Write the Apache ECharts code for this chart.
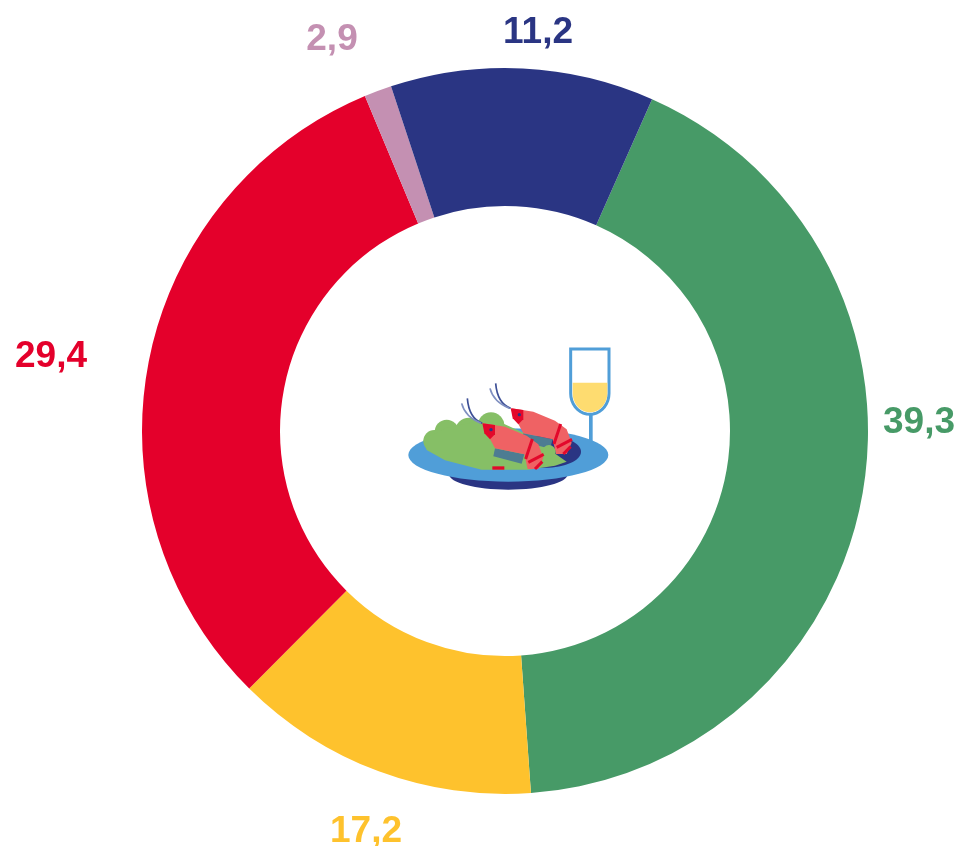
<!DOCTYPE html>
<html>
<head>
<meta charset="utf-8">
<style>
  html, body { margin: 0; padding: 0; background: #fff; }
  #chart { width: 960px; height: 846px; }
</style>
<script src="https://cdn.jsdelivr.net/npm/echarts@6/dist/echarts.min.js"></script>
</head>
<body>
<div id="chart"></div>
<script>
// printed labels, clockwise from the green slice
const printedLabels = ['39,3', '17,2', '29,4', '2,9', '11,2']
// the arcs in the picture do not follow the printed numbers, so these are the drawn shares (degrees)
const drawnShares = [152, 48.9, 112.5, 4.4, 42.2]
const sliceColors = ['#479a67', '#fec22d', '#e4002b', '#c490b2', '#2a3583']
const labelCenters = [[919, 423], [366, 832], [51, 357], [332, 40], [538, 33]]

const chart = echarts.init(document.getElementById('chart'), null, { renderer: 'canvas' })

const blue = '#509ed8'
const navy = '#2a3583'
const salmon = '#ef6264'
const red = '#e3082b'
const mesh = '#4d7c92'
const leaf = '#86bf66'

// glass bowl outline: straight sides, round bottom
function bowl(left, right, top, shoulder, bottom) {
  const cx = (left + right) / 2
  const rx = (right - left) / 2
  const ry = bottom - shoulder
  const pts = [[left, top], [right, top]]
  for (let a = 0; a <= 180; a += 10) {
    const t = a * Math.PI / 180
    pts.push([cx + rx * Math.cos(t), shoulder + ry * Math.sin(t)])
  }
  return pts
}

// one shrimp, drawn in the zoomed icon coordinates
function shrimp(dx, dy) {
  const stripe = (x1, y1, x2, y2) => ({
    type: 'line', shape: { x1, y1, x2, y2 }, style: { stroke: red, lineWidth: 9 }
  })
  return {
    type: 'group', x: dx, y: dy,
    children: [
      { type: 'bezierCurve', shape: { x1: 262, y1: 265, cpx1: 222, cpy1: 250, x2: 217, y2: 190 }, style: { stroke: '#3d4f96', lineWidth: 5, fill: null } },
      { type: 'bezierCurve', shape: { x1: 258, y1: 265, cpx1: 210, cpy1: 245, x2: 200, y2: 205 }, style: { stroke: '#7f8fc0', lineWidth: 5, fill: null } },
      { type: 'polygon', shape: { points: [[300, 340], [388, 358], [380, 386], [295, 364]] }, style: { fill: mesh } },
      { type: 'polygon', shape: { points: [[265, 265], [330, 275], [395, 302], [430, 328], [445, 368], [430, 402], [398, 402], [388, 358], [300, 340], [285, 312]] }, style: { fill: salmon } },
      { type: 'polygon', shape: { points: [[262, 265], [300, 270], [300, 298], [285, 313], [268, 295]] }, style: { fill: red } },
      { type: 'circle', shape: { cx: 288, cy: 284, r: 5 }, style: { fill: navy } },
      stripe(412, 312, 392, 372),
      stripe(400, 382, 446, 358),
      stripe(420, 402, 442, 380)
    ]
  }
}

// plate and glass, in coordinates of a 3x crop of the icon
const icon = {
  type: 'group', x: 395, y: 335, scaleX: 1 / 3, scaleY: 1 / 3,
  children: [
    { type: 'rect', shape: { x: 582, y: 235, width: 11, height: 90 }, style: { fill: blue } },
    { type: 'ellipse', shape: { cx: 340, cy: 418, rx: 178, ry: 46 }, style: { fill: navy } },
    { type: 'ellipse', shape: { cx: 340, cy: 360, rx: 300, ry: 80 }, style: { fill: blue } },
    { type: 'ellipse', shape: { cx: 450, cy: 350, rx: 108, ry: 48 }, style: { fill: navy } },
    { type: 'circle', shape: { cx: 118, cy: 318, r: 33 }, style: { fill: leaf } },
    { type: 'circle', shape: { cx: 155, cy: 290, r: 36 }, style: { fill: leaf } },
    { type: 'circle', shape: { cx: 222, cy: 290, r: 42 }, style: { fill: leaf } },
    { type: 'circle', shape: { cx: 288, cy: 272, r: 40 }, style: { fill: leaf } },
    { type: 'polygon', shape: { points: [[85, 315], [150, 280], [290, 250], [400, 300], [515, 380], [480, 392], [400, 404], [260, 404], [150, 376], [95, 345]] }, style: { fill: leaf } },
    shrimp(85, -45),
    { type: 'circle', shape: { cx: 462, cy: 350, r: 20 }, style: { fill: leaf } },
    shrimp(0, 0),
    { type: 'rect', shape: { x: 292, y: 394, width: 36, height: 10 }, style: { fill: red } },
    { type: 'polygon', shape: { points: bowl(527, 642, 42, 175, 238) }, style: { fill: '#fff', stroke: blue, lineWidth: 9 } },
    { type: 'polygon', shape: { points: bowl(533, 637, 143, 175, 232) }, style: { fill: '#fedc70' } }
  ]
}

chart.setOption({
  animation: false,
  backgroundColor: '#fff',
  graphic: [icon],
  series: [
    {
      type: 'pie',
      radius: [225, 363],
      center: [505, 431],
      startAngle: 66.1,
      clockwise: true,
      avoidLabelOverlap: false,
      silent: true,
      data: drawnShares.map((v, i) => ({
        name: printedLabels[i],
        value: v,
        itemStyle: { color: sliceColors[i] },
        label: { color: sliceColors[i] }
      })),
      label: {
        position: 'outside',
        formatter: '{b}',
        fontFamily: 'Liberation Sans',
        fontWeight: 'bold',
        fontSize: 37
      },
      labelLine: { show: false },
      labelLayout: params => ({
        x: labelCenters[params.dataIndex][0],
        y: labelCenters[params.dataIndex][1],
        align: 'center',
        verticalAlign: 'middle'
      })
    }
  ]
})
</script>
</body>
</html>
